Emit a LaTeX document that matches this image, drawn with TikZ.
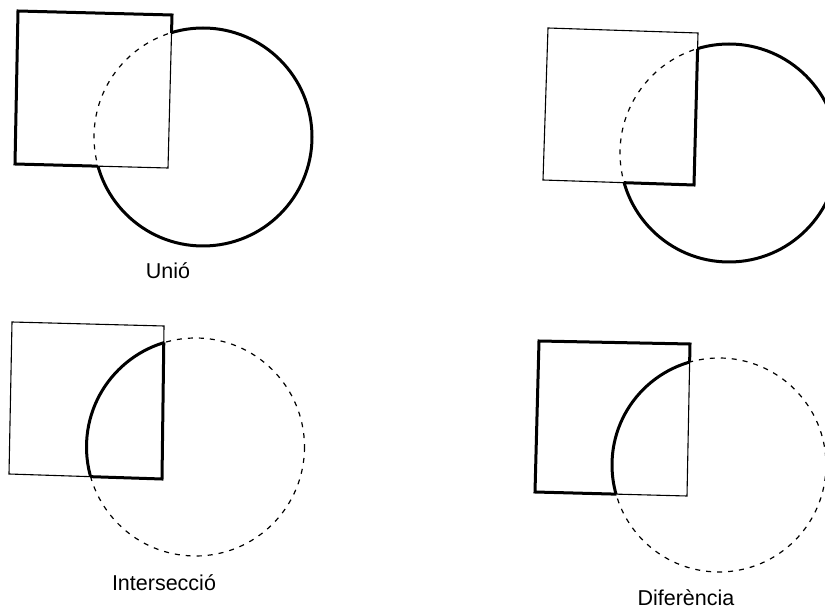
\documentclass[tikz,border=0pt]{standalone}
\usepackage{fontspec}
\setmainfont{Liberation Sans}
\begin{document}
\begin{tikzpicture}[x=1pt,y=-1pt,
  thinline/.style={line width=1.1pt,line join=miter},
  thickline/.style={line width=3pt,line join=miter},
  dashline/.style={line width=1.2pt,dash pattern=on 5pt off 6pt},
  lbl/.style={anchor=base,inner sep=0pt,font=\fontsize{21.5}{25}\selectfont}]
\useasboundingbox (0,0) rectangle (825,609);
% ---------- Panel 1: Unió ----------
\def\sqA{(18,11) -- (172,15) -- (168,168) -- (15,164) -- cycle}
\def\ciA{(203,137) circle[radius=109]}
\draw[thinline] \sqA;
\draw[dashline] \ciA;
\begin{scope}[even odd rule]
  \clip (-50,-50) rectangle (900,700) \ciA;
  \draw[thickline] \sqA;
\end{scope}
\begin{scope}[even odd rule]
  \clip (-50,-50) rectangle (900,700) \sqA;
  \draw[thickline] \ciA;
\end{scope}
\node[lbl] (unio) at (168,279) {Unió};
% ---------- Panel 2: circle minus square ----------
\def\sqB{(548,28) -- (698,33) -- (694,185) -- (543,180) -- cycle}
\def\ciB{(729,153) circle[radius=109]}
\draw[thinline] \sqB;
\draw[dashline] \ciB;
\begin{scope}[even odd rule]
  \clip (-50,-50) rectangle (900,700) \sqB;
  \draw[thickline] \ciB;
\end{scope}
\begin{scope}
  \clip \ciB;
  \draw[thickline] \sqB;
\end{scope}
% ---------- Panel 3: Intersecció ----------
\def\sqC{(12,322) -- (164,326) -- (162,479) -- (9,474) -- cycle}
\def\ciC{(195.5,447) circle[radius=109]}
\draw[thinline] \sqC;
\draw[dashline] \ciC;
\begin{scope}
  \clip \sqC;
  \draw[thickline] \ciC;
\end{scope}
\begin{scope}
  \clip \ciC;
  \draw[thickline] \sqC;
\end{scope}
\node[lbl] (inter) at (164,590) {Intersecció};
% ---------- Panel 4: Diferència ----------
\def\sqD{(539,341) -- (690,344) -- (687,496) -- (535,492) -- cycle}
\def\ciD{(719,465) circle[radius=107]}
\draw[thinline] \sqD;
\draw[dashline] \ciD;
\begin{scope}
  \clip \sqD;
  \draw[thickline] \ciD;
\end{scope}
\begin{scope}[even odd rule]
  \clip (-50,-50) rectangle (900,700) \ciD;
  \draw[thickline] \sqD;
\end{scope}
\node[lbl] (dif) at (686,605) {Diferència};
\end{tikzpicture}
\end{document}
